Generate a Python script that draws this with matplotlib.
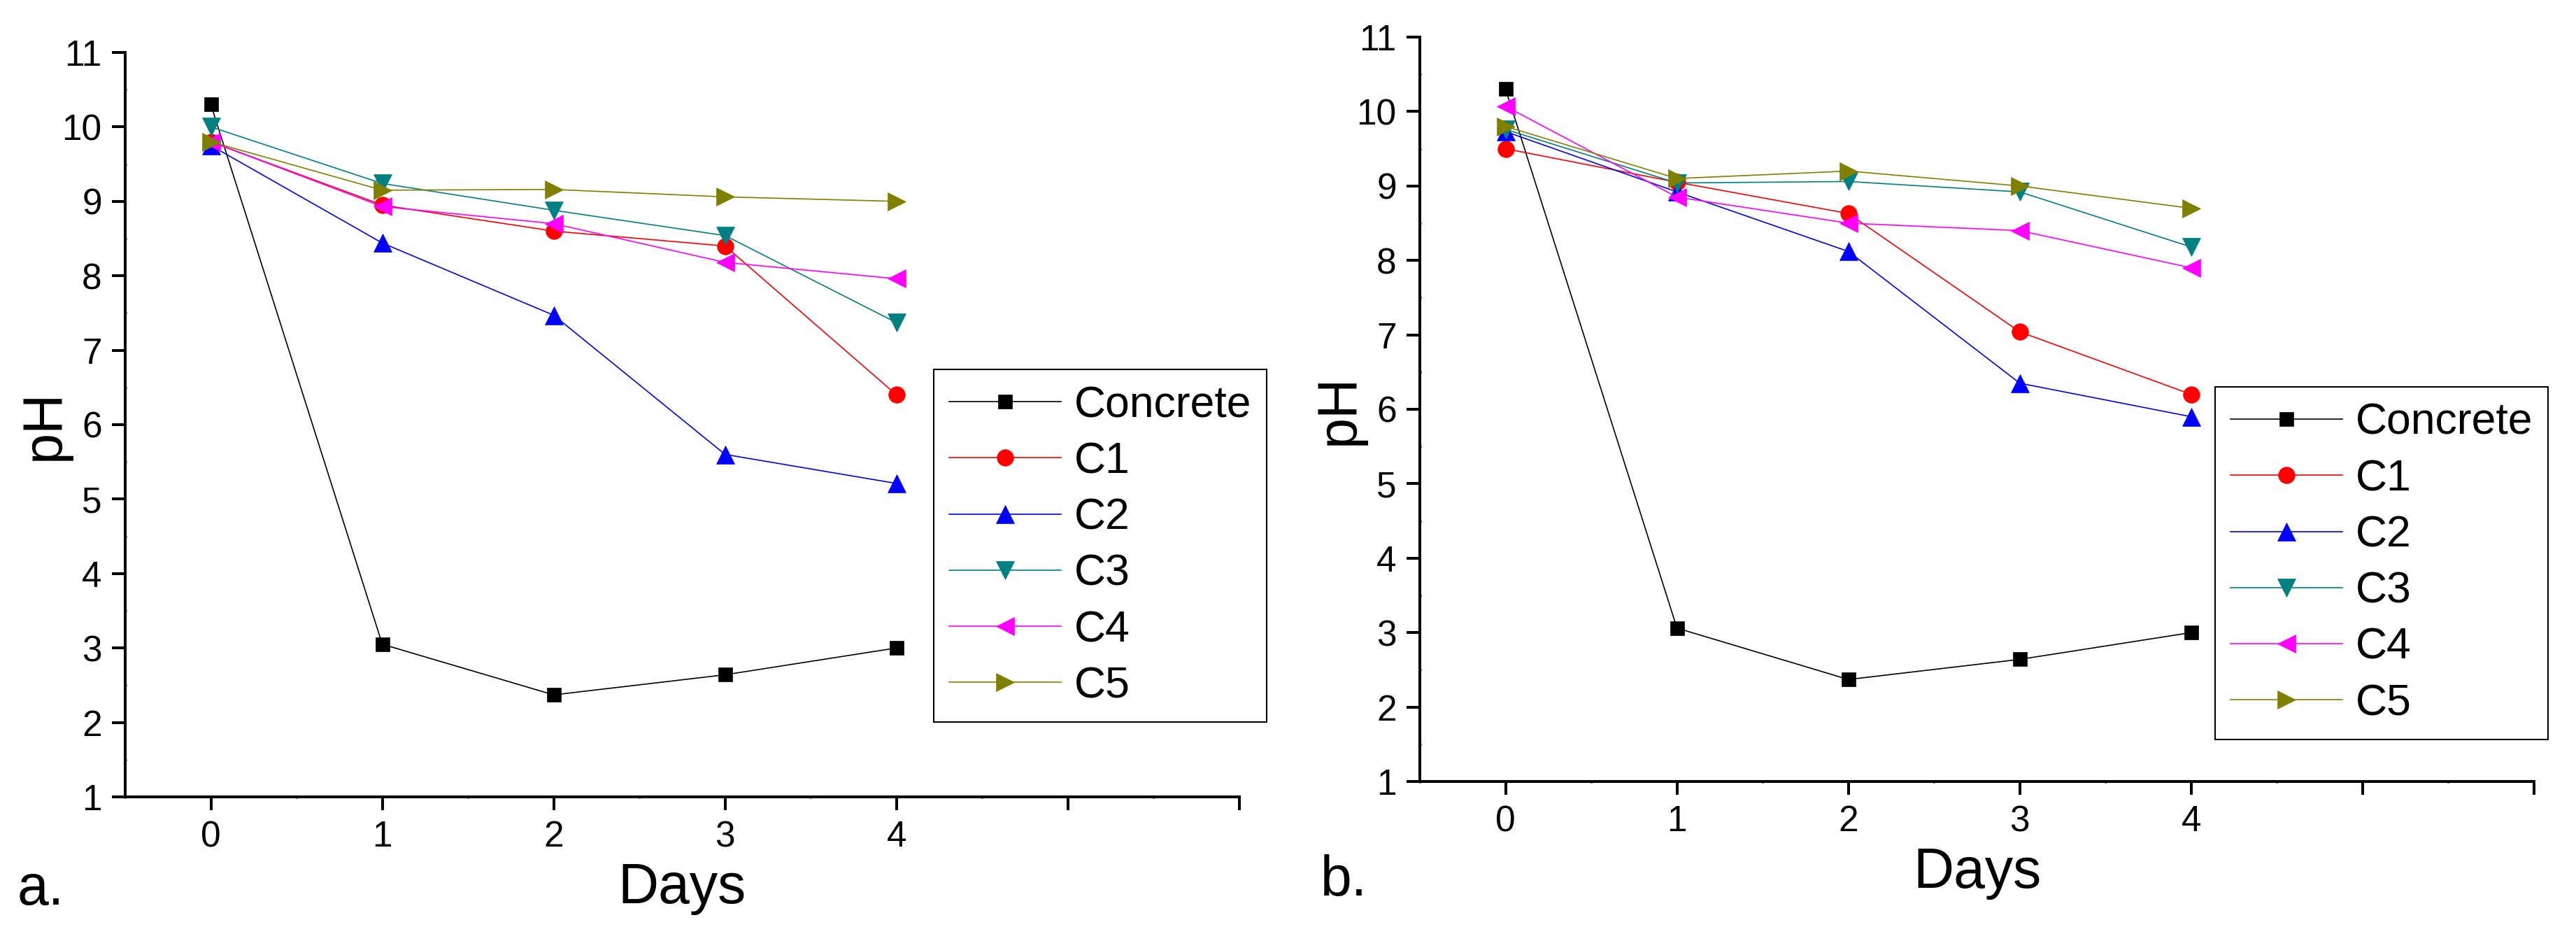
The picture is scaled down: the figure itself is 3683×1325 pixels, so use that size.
import numpy as np
import matplotlib.pyplot as plt

plt.rcParams['font.family'] = ['Liberation Sans', 'DejaVu Sans']

# data
days = [0, 1, 2, 3, 4]
names = ['Concrete', 'C1', 'C2', 'C3', 'C4', 'C5']

# panel a
a_concrete = [10.3, 3.05, 2.37, 2.64, 3.0]
a_c1 = [9.8, 8.95, 8.6, 8.4, 6.4]
a_c2 = [9.75, 8.44, 7.47, 5.6, 5.21]
a_c3 = [10.0, 9.24, 8.88, 8.54, 7.37]
a_c4 = [9.8, 8.93, 8.7, 8.18, 7.96]
a_c5 = [9.8, 9.15, 9.16, 9.06, 9.0]

# panel b
b_concrete = [10.3, 3.06, 2.37, 2.64, 3.0]
b_c1 = [9.5, 9.05, 8.63, 7.04, 6.2]
b_c2 = [9.73, 8.92, 8.12, 6.35, 5.9]
b_c3 = [9.76, 9.04, 9.06, 8.92, 8.18]
b_c4 = [10.07, 8.85, 8.5, 8.4, 7.9]
b_c5 = [9.8, 9.1, 9.2, 9.0, 8.7]

colors = ['black', '#FF0000', '#0000FF', '#008080', '#FF00FF', '#808000']
markers = ['s', 'o', '^', 'v', '<', '>']
msizes = [15, 17, 19, 19, 19, 19]

xtick_pos = [0, 1, 2, 3, 4, 5, 6]
xtick_lab = ['0', '1', '2', '3', '4', '', '']
ytick_pos = list(range(1, 12))

fig = plt.figure(figsize=(36.83, 13.25), dpi=100)
ax1 = fig.add_axes([0.0486, 0.1404, 0.4325, 0.8030])
ax2 = fig.add_axes([0.5512, 0.1570, 0.4325, 0.8030])


def draw(ax, series, leg_anchor):
    for vals, name, c, m, ms in zip(series, names, colors, markers, msizes):
        ax.plot(days, vals, color=c, marker=m, markersize=ms, lw=1.2,
                mec=c, mew=0.5, label=name)
    ax.set_xlim(-0.5, 6)
    ax.set_ylim(1, 11)
    ax.set_xticks(xtick_pos)
    ax.set_xticklabels(xtick_lab)
    ax.set_yticks(ytick_pos)
    ax.set_xticks(np.arange(-0.5, 6, 0.5), minor=True)
    ax.set_yticks(np.arange(1.5, 11, 1), minor=True)
    for s in ['top', 'right']:
        ax.spines[s].set_visible(False)
    for s in ['left', 'bottom']:
        ax.spines[s].set_linewidth(2.9)
    ax.tick_params(which='major', direction='out', length=14, width=2.9,
                   labelsize=37, pad=10)
    ax.tick_params(which='minor', direction='inout', length=3, width=2)
    ax.set_xlabel('Days', fontsize=58, va='baseline')
    ax.xaxis.set_label_coords(0.5, -0.143)
    ax.set_ylabel('pH', fontsize=57, va='baseline')
    ax.yaxis.set_label_coords(-0.060, 0.5)
    leg = ax.legend(loc='upper left', bbox_to_anchor=leg_anchor,
                    borderaxespad=0, fontsize=45, handlelength=2.56,
                    handletextpad=0.3, labelspacing=0.34, borderpad=0.35,
                    fancybox=False, framealpha=1, edgecolor='black')
    leg.get_frame().set_linewidth(1.5)


draw(ax1, [a_concrete, a_c1, a_c2, a_c3, a_c4, a_c5], (0.7257, 0.574))
draw(ax2, [b_concrete, b_c1, b_c2, b_c3, b_c4, b_c5], (0.714, 0.530))

fig.text(0.0068, 0.0242, 'a.', fontsize=58, va='baseline')
fig.text(0.5126, 0.034, 'b.', fontsize=58, va='baseline')

plt.savefig('out.png', dpi=100)
